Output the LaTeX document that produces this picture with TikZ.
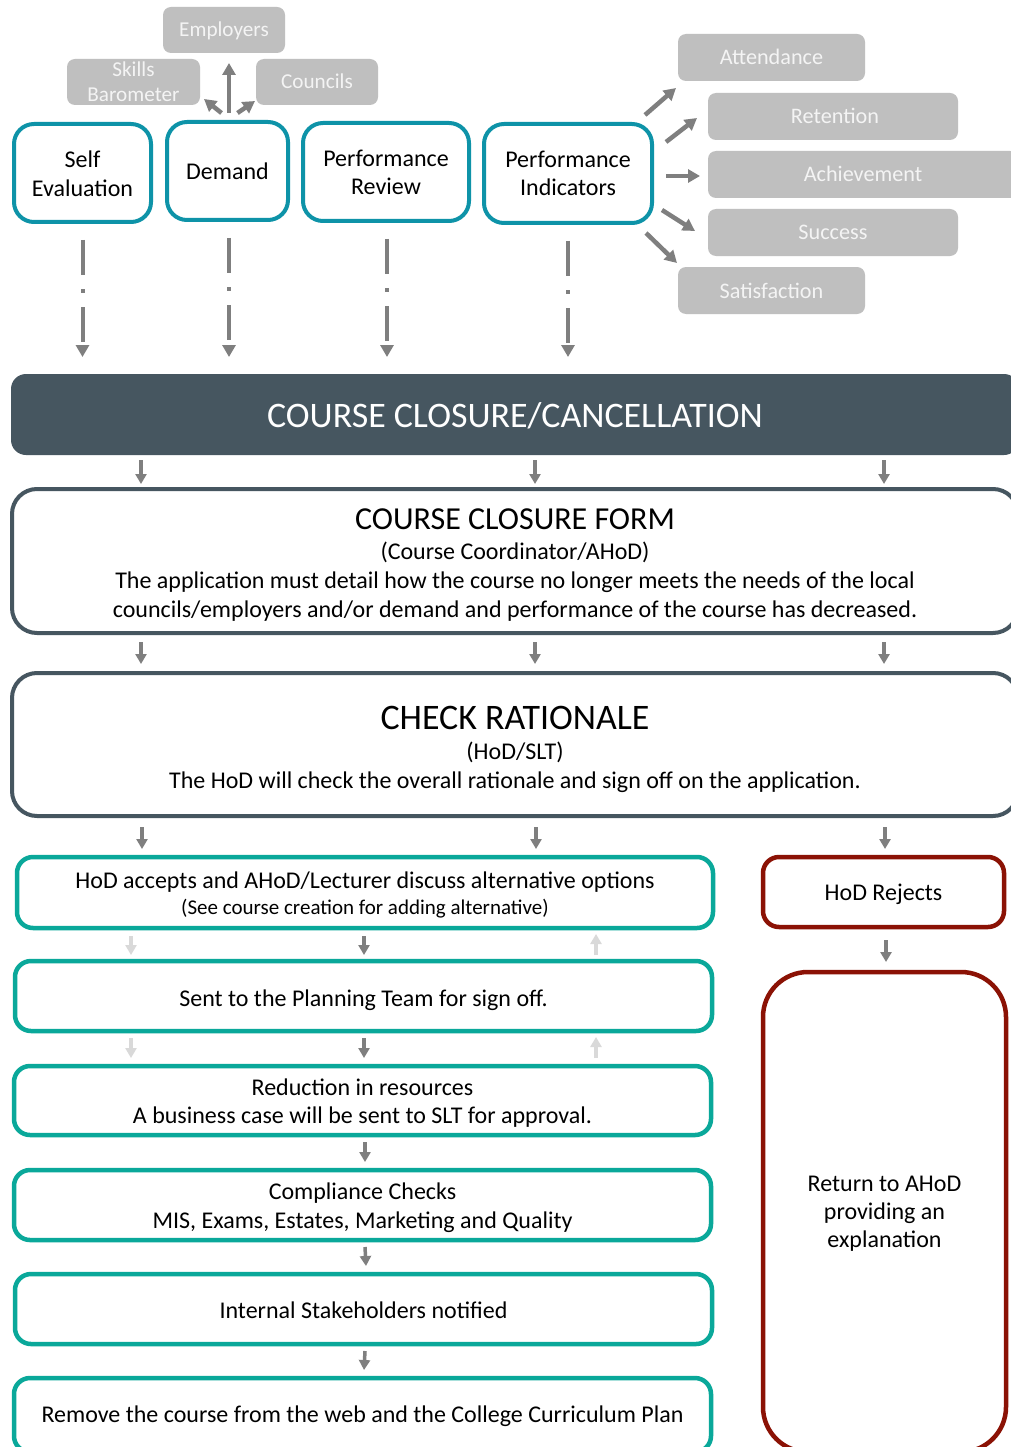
\documentclass[tikz,border=0pt]{standalone}
\usepackage{fontspec}
\setmainfont{Carlito}
\usetikzlibrary{arrows.meta,calc}
\definecolor{tealA}{HTML}{0E93A8}
\definecolor{tealB}{HTML}{0AA89A}
\definecolor{slate}{HTML}{465660}
\definecolor{dred}{HTML}{8B1205}
\definecolor{gbox}{HTML}{BFBFBF}
\definecolor{gtext}{HTML}{F4F4F4}
\definecolor{arr}{HTML}{7F7F7F}
\definecolor{larr}{HTML}{D9D9D9}
\newcommand\myfs[2]{\fontsize{#1}{#2}\selectfont}
\begin{document}
\begin{tikzpicture}[x=1pt,y=-1pt,
  every node/.style={inner sep=0pt,outer sep=0pt},
  topbox/.style={draw=tealA,line width=4pt,rounded corners=20pt,fill=white},
  graybox/.style={fill=gbox,rounded corners=8pt},
  formbox/.style={draw=slate,line width=4pt,rounded corners=25pt,fill=white},
  lowbox/.style={draw=tealB,line width=4.5pt,rounded corners=16pt,fill=white},
  redbox/.style={draw=dred,line width=4.5pt,rounded corners=#1,fill=white},
  tx/.style={anchor=base,font=\myfs{24}{29}},
  gtl/.style={anchor=base,text=gtext,font=\myfs{21.2}{25}},
  gtr/.style={anchor=base,text=gtext,font=\myfs{22.2}{26}},
  bt/.style={anchor=base,font=\myfs{24}{28}},
  tarr/.style={draw=arr,line width=4.5pt,-{Triangle[width=13pt,length=12pt]}},
  darr/.style={draw=arr,line width=4pt,dash pattern=on 35pt off 14pt on 4pt off 14pt,-{Triangle[width=13pt,length=12pt]}},
  sarr/.style={draw=arr,line width=3.5pt,-{Triangle[width=11pt,length=10pt]}},
  larrow/.style={draw=larr,line width=3.5pt,-{Triangle[width=11pt,length=10pt]}},
]
\useasboundingbox (0,0) rectangle (1010,1447);
\fill[white] (0,0) rectangle (1010,1447);

% gray boxes top left
\node[graybox,minimum width=122pt,minimum height=46pt] (emp) at (224,30) {};
\node[gtl] (empT) at (224,37) {Employers};
\node[graybox,minimum width=133pt,minimum height=46pt] (skills) at (133.5,82) {};
\node[gtl] (skT1) at (133.5,77) {Skills};
\node[gtl] (skT2) at (133.5,102) {Barometer};
\node[graybox,minimum width=122pt,minimum height=46pt] (councils) at (317,82) {};
\node[gtl] (coT) at (317,89) {Councils};

% gray boxes right
\node[graybox,minimum width=187pt,minimum height=47pt] (att) at (771.5,57.5) {};
\node[gtr] (attT) at (771.5,65) {Attendance};
\node[graybox,minimum width=250pt,minimum height=47pt] (ret) at (833,116.5) {};
\node[gtr] (retT) at (835,124) {Retention};
\node[graybox,minimum width=310pt,minimum height=47pt] (ach) at (863,174.5) {};
\node[gtr] (achT) at (863,182) {Achievement};
\node[graybox,minimum width=250pt,minimum height=47pt] (suc) at (833,232.5) {};
\node[gtr] (sucT) at (833,240) {Success};
\node[graybox,minimum width=187pt,minimum height=47pt] (sat) at (771.5,290.5) {};
\node[gtr] (satT) at (771.5,298) {Satisfaction};

% top teal boxes
\node[topbox,minimum width=137pt,minimum height=98pt] (se) at (82.5,173) {};
\node[tx] (seT1) at (82.5,168) {Self};
\node[tx] (seT2) at (82.5,197) {Evaluation};
\node[topbox,minimum width=121pt,minimum height=98pt] (dem) at (227.5,171) {};
\node[tx] (demT) at (227.5,180) {Demand};
\node[topbox,minimum width=166pt,minimum height=98pt] (pr) at (386,172) {};
\node[tx] (prT1) at (386,167) {Performance};
\node[tx] (prT2) at (386,195) {Review};
\node[topbox,minimum width=168pt,minimum height=99pt] (pi) at (568,173.5) {};
\node[tx] (piT1) at (568,168) {Performance};
\node[tx] (piT2) at (568,196) {Indicators};

% arrows from Demand
\coordinate (dup) at ($(dem.north)+(1.5,-9)$);
\draw[tarr] (dup) -- ($(emp.south -| dup)+(0,10)$);
\draw[tarr] ($(dem.north)+(-6,-9)$) -- ($(skills.south east)+(4,-6)$);
\draw[tarr] ($(dem.north)+(10,-9)$) -- ($(councils.south west)+(-1,-4)$);

% arrows from Performance Indicators
\draw[tarr] ($(pi.north east)+(-7,-9)$) -- ($(att.south west)+(-2,7)$);
\draw[tarr] ($(pi.east)+(14,-31.5)$) -- ($(ret.west)+(-11,1.5)$);
\draw[tarr] ($(pi.east)+(14,2.5)$) -- ($(ach.west)+(-8,1.5)$);
\draw[tarr] ($(pi.east)+(10,36.5)$) -- ($(suc.west)+(-13,-1.5)$);
\draw[tarr] ($(pi.south east)+(-6,10)$) -- ($(sat.north west)+(-1,-4)$);

% banner
\node[fill=slate,rounded corners=15pt,minimum width=1008pt,minimum height=81pt] (banner) at (515,414.5) {};
\node[anchor=base,text=white,font=\myfs{35.9}{42}] (banT) at (515,427) {COURSE CLOSURE/CANCELLATION};

% dashed arrows
\draw[darr] ($(se.south)+(0,18)$) -- ($(se.south |- banner.north)+(0,-17)$);
\draw[darr] ($(dem.south)+(1.5,18)$) -- ($(dem.south |- banner.north)+(1.5,-17)$);
\draw[darr] ($(pr.south)+(1,18)$) -- ($(pr.south |- banner.north)+(1,-17)$);
\draw[darr] ($(pi.south)+(0,18)$) -- ($(pi.south |- banner.north)+(0,-17)$);

% form
\node[formbox,minimum width=1006pt,minimum height=144pt] (form) at (515,561) {};
\node[anchor=base,font=\myfs{32}{36}] (formT1) at (515,529) {COURSE CLOSURE FORM};
\node[bt] (formT2) at (515,559) {(Course Coordinator/AHoD)};
\node[bt] (formT3) at (515,588) {The application must detail how the course no longer meets the needs of the local};
\node[bt] (formT4) at (515,617) {councils/employers and/or demand and performance of the course has decreased.};

% check rationale
\node[formbox,minimum width=1006pt,minimum height=143pt] (check) at (515,744.5) {};
\node[anchor=base,font=\myfs{35.9}{42}] (chT1) at (515,729) {CHECK RATIONALE};
\node[bt] (chT2) at (515,759) {(HoD/SLT)};
\node[bt] (chT3) at (515,788) {The HoD will check the overall rationale and sign off on the application.};

% columns
\coordinate (k1) at (141,0);
\coordinate (k2) at (535,0);
\coordinate (k3) at (884,0);
\draw[sarr] ($(banner.south -| k1)+(0,5)$) -- ($(form.north -| k1)+(0,-5)$);
\draw[sarr] ($(banner.south -| k2)+(0,5)$) -- ($(form.north -| k2)+(0,-5)$);
\draw[sarr] ($(banner.south -| k3)+(0,5)$) -- ($(form.north -| k3)+(0,-5)$);
\draw[sarr] ($(form.south -| k1)+(0,9)$) -- ($(check.north -| k1)+(0,-9)$);
\draw[sarr] ($(form.south -| k2)+(0,9)$) -- ($(check.north -| k2)+(0,-9)$);
\draw[sarr] ($(form.south -| k3)+(0,9)$) -- ($(check.north -| k3)+(0,-9)$);

% lower boxes
\node[lowbox,minimum width=696pt,minimum height=71pt] (acc) at (365,892.5) {};
\node[bt] (accT1) at (365,888) {HoD accepts and AHoD/Lecturer discuss alternative options};
\node[anchor=base,font=\myfs{21}{24}] (accT2) at (365,914) {(See course creation for adding alternative)};
\node[redbox=16pt,minimum width=241pt,minimum height=70pt] (rej) at (883.5,892) {};
\node[bt] (rejT) at (883.5,900) {HoD Rejects};
\node[redbox=45pt,minimum width=243pt,minimum height=480pt] (retn) at (884.5,1212) {};
\node[bt] (retnT1) at (884.5,1191) {Return to AHoD};
\node[bt] (retnT2) at (884.5,1219) {providing an};
\node[bt] (retnT3) at (884.5,1247) {explanation};

\draw[sarr] ($(check.south -| k1)+(1,11)$) -- ($(acc.north -| k1)+(1,-8)$);
\draw[sarr] ($(check.south -| k2)+(1,11)$) -- ($(acc.north -| k2)+(1,-8)$);
\draw[sarr] ($(check.south -| k3)+(1,11)$) -- ($(rej.north -| k3)+(1,-8)$);
\draw[sarr] ($(rej.south)+(2.5,13)$) -- ($(retn.north)+(1.5,-10)$);

\node[lowbox,minimum width=697pt,minimum height=70pt] (sent) at (363.5,996) {};
\node[bt] (sentT) at (363.5,1006) {Sent to the Planning Team for sign off.};
\node[lowbox,minimum width=697pt,minimum height=69pt] (red) at (362.5,1100.5) {};
\node[bt] (redT1) at (362.5,1095) {Reduction in resources};
\node[bt] (redT2) at (362.5,1123) {A business case will be sent to SLT for approval.};
\node[lowbox,minimum width=697pt,minimum height=70pt] (comp) at (362.5,1205) {};
\node[bt] (compT1) at (362.5,1199) {Compliance Checks};
\node[bt] (compT2) at (362.5,1228) {MIS, Exams, Estates, Marketing and Quality};
\node[lowbox,minimum width=697pt,minimum height=70pt] (int) at (363.5,1309) {};
\node[bt] (intT) at (363.5,1318) {Internal Stakeholders notified};
\node[lowbox,minimum width=697pt,minimum height=74pt] (rem) at (362.5,1415) {};
\node[bt] (remT) at (362.5,1422) {Remove the course from the web and the College Curriculum Plan};

\coordinate (m1) at (131,0);
\coordinate (m2) at (364,0);
\coordinate (m3) at (596,0);
\draw[larrow] ($(acc.south -| m1)+(0,8)$) -- ($(sent.north -| m1)+(0,-6)$);
\draw[sarr] ($(acc.south -| m2)+(0,8)$) -- ($(sent.north -| m2)+(0,-6)$);
\draw[larrow] ($(sent.north -| m3)+(0,-6)$) -- ($(acc.south -| m3)+(0,6)$);
\draw[larrow] ($(sent.south -| m1)+(0,7)$) -- ($(red.north -| m1)+(0,-8)$);
\draw[sarr] ($(sent.south -| m2)+(0,7)$) -- ($(red.north -| m2)+(0,-8)$);
\draw[larrow] ($(red.north -| m3)+(0,-8)$) -- ($(sent.south -| m3)+(0,6)$);
\draw[sarr] ($(red.south)+(2.5,7)$) -- ($(comp.north)+(2.5,-8)$);
\draw[sarr] ($(comp.south)+(2.5,7)$) -- ($(int.north)+(2.5,-8)$);
\draw[sarr] ($(int.south)+(1.5,7)$) -- ($(rem.north)+(1.5,-8)$);
\end{tikzpicture}
\end{document}
